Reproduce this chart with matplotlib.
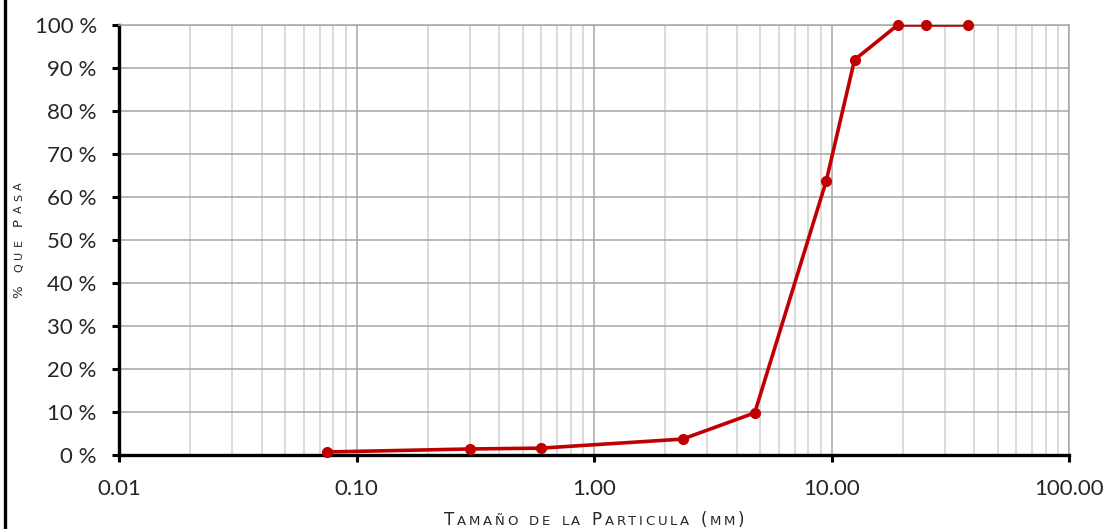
import matplotlib
matplotlib.use("Agg")
import matplotlib.pyplot as plt
from matplotlib.ticker import FixedLocator, FuncFormatter, LogLocator, NullFormatter
from matplotlib.lines import Line2D

# sieve opening (mm) and percent passing
abertura = [37.5, 25.0, 19.0, 12.5, 9.5, 4.75, 2.36, 0.6, 0.3, 0.075]
pasa = [100.0, 100.0, 100.0, 91.9, 63.7, 9.8, 3.7, 1.6, 1.4, 0.7]

x_ticks = [0.01, 0.1, 1, 10, 100]
x_labels = ['0.01', '0.10', '1.00', '10.00', '100.00']
y_ticks = [0, 10, 20, 30, 40, 50, 60, 70, 80, 90, 100]

rojo = '#C00000'
plt.rcParams['font.family'] = ['Lato', 'DejaVu Sans']

fig = plt.figure(figsize=(11.17, 5.29), dpi=100)
ax = fig.add_axes([119 / 1117, 1 - 455 / 529, 950 / 1117, 430 / 529])

ax.set_xscale('log')
ax.set_xlim(0.01, 100)
ax.set_ylim(0, 100)

ax.xaxis.set_major_locator(FixedLocator(x_ticks))
ax.xaxis.set_major_formatter(FuncFormatter(lambda v, p: x_labels[x_ticks.index(v)] if v in x_ticks else ''))
ax.xaxis.set_minor_locator(LogLocator(base=10, subs=range(2, 10)))
ax.xaxis.set_minor_formatter(NullFormatter())
ax.yaxis.set_major_locator(FixedLocator(y_ticks))
ax.yaxis.set_major_formatter(FuncFormatter(lambda v, p: '%d %%' % v))

ax.grid(True, which='major', axis='both', color='#A6A6A6', lw=1.1)
ax.grid(True, which='minor', axis='x', color='#D0D0D0', lw=1.1)
ax.set_axisbelow(True)

for s in ['top', 'right']:
    ax.spines[s].set_color('#A6A6A6')
    ax.spines[s].set_linewidth(1.1)
for s in ['left', 'bottom']:
    ax.spines[s].set_color('black')
    ax.spines[s].set_linewidth(2.4)

ax.tick_params(axis='both', which='major', length=5, width=2.2, color='black',
               labelsize=16, labelcolor='#262626')
ax.tick_params(axis='y', pad=11)
ax.tick_params(axis='x', pad=12)
ax.tick_params(axis='x', which='minor', length=0)
ax.tick_params(top=False, right=False)

ax.plot(abertura, pasa, color=rojo, lw=2.6, zorder=3)
ax.plot(abertura, pasa, ls='none', marker='o', ms=7, color=rojo, zorder=4, clip_on=False)

# left black frame line
fig.add_artist(Line2D([5 / 1117, 5 / 1117], [0, 1], color='black', lw=2.4, transform=fig.transFigure))

fig.canvas.draw()
renderer = fig.canvas.get_renderer()


def small_caps(text, x, y, big, small, width, rotation=0):
    # small caps drawn letter by letter, spaced out to fill a given width (pixels)
    pieces = []
    natural = 0
    for ch in text:
        up = not ch.islower()
        tx = fig.text(0, 0, ch.upper(), fontsize=big if up else small, color='#262626',
                      family='DejaVu Sans', rotation=rotation, va='baseline', ha='left',
                      rotation_mode='anchor', transform=None)
        bb = tx.get_window_extent(renderer)
        w = bb.width if rotation == 0 else bb.height
        if ch == ' ':
            w = small * 0.6
        pieces.append((tx, w))
        natural += w
    track = (width - natural) / (len(pieces) - 1)
    pos = -width / 2
    for tx, w in pieces:
        if rotation == 0:
            tx.set_position((x + pos, y))
        else:
            tx.set_position((x, y + pos))
        pos += w + track


small_caps('Tamaño de la Particula (mm)', 594, 529 - 525, 12, 9.5, 300)
small_caps('% que Pasa', 22, 529 - 240, 9.5, 8, 116, rotation=90)

fig.savefig('out.png', dpi=100)
